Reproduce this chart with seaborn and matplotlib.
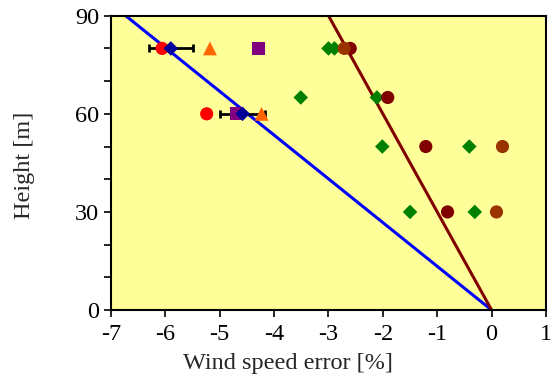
import matplotlib
matplotlib.use("Agg")
import matplotlib.pyplot as plt
import seaborn as sns
import pandas as pd
import numpy as np

# Wind speed error per height, grouped by series
red_err = [-6.06, -5.24]
red_h = [80, 60]

blue_err = [-5.90, -4.58]
blue_h = [80, 60]
blue_sd = [0.41, 0.41]

orange_err = [-5.18, -4.23]
orange_h = [80, 60]

purple_err = [-4.28, -4.70]
purple_h = [80, 60]

green_err = [-3.00, -2.89, -3.51, -2.11, -2.01, -0.41, -1.50, -0.31]
green_h = [80, 80, 65, 65, 50, 50, 30, 30]

darkred_err = [-2.60, -1.91, -1.21, -0.81]
darkred_h = [80, 65, 50, 30]

brown_err = [-2.71, 0.20, 0.09]
brown_h = [80, 50, 30]

# Reference lines through the origin (error at 90 m)
blue_line_top = -6.73
darkred_line_top = -3.00

sns.set_style("ticks")
plt.rcParams["font.family"] = ["Liberation Serif", "DejaVu Serif"]
plt.rcParams["axes.unicode_minus"] = False

fig = plt.figure(figsize=(5.53, 3.74), dpi=100)
ax = fig.add_axes([0.2007, 0.171, 0.7866, 0.787])
ax.set_facecolor("#FFFF99")

sns.lineplot(x=[0, blue_line_top], y=[0, 90], color="#0000FF", lw=2.2, ax=ax, sort=False)
sns.lineplot(x=[0, darkred_line_top], y=[0, 90], color="#800000", lw=2.2, ax=ax, sort=False)

ax.errorbar(blue_err, blue_h, xerr=blue_sd, fmt="none", ecolor="black",
            elinewidth=2, capsize=3, capthick=2, zorder=3)

series = [
    (red_err, red_h, "#FF0000", "o", 90),
    (orange_err, orange_h, "#FF6600", "^", 100),
    (purple_err, purple_h, "#800080", "s", 85),
    (green_err, green_h, "#008000", "D", 55),
    (darkred_err, darkred_h, "#800000", "o", 90),
    (brown_err, brown_h, "#993300", "o", 90),
    (blue_err, blue_h, "#000099", "D", 55),
]
for xs, hs, col, mk, sz in series:
    df = pd.DataFrame({"err": xs, "h": hs})
    sns.scatterplot(data=df, x="err", y="h", color=col, marker=mk, s=sz,
                    edgecolor="none", ax=ax, zorder=4)

ax.set_xlim(-7, 1)
ax.set_ylim(0, 90)
ax.set_xticks(np.arange(-7, 2, 1))
ax.set_yticks([0, 30, 60, 90])
ax.set_yticks(np.arange(0, 91, 10), minor=True)
ax.tick_params(axis="both", which="both", direction="out", length=5, width=1.2,
               labelsize=17.5, colors="black")
ax.tick_params(axis="y", which="minor", length=5)
ax.tick_params(axis="x", pad=5)
ax.set_xlabel("Wind speed error [%]", fontsize=17.5)
ax.set_ylabel("Height [m]", fontsize=17.5)
ax.xaxis.set_label_coords(0.407, -0.145)
ax.yaxis.set_label_coords(-0.175, 0.49)
for sp in ax.spines.values():
    sp.set_visible(True)
    sp.set_color("black")
    sp.set_linewidth(1.5)

fig.savefig("out.png", dpi=100)
